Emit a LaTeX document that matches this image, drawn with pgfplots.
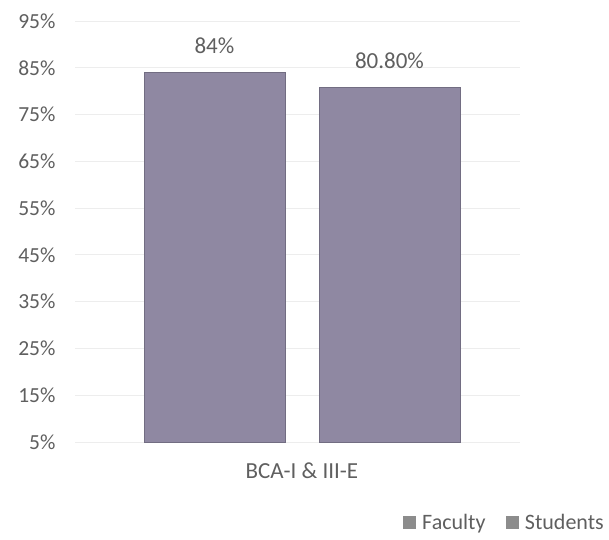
\documentclass[border=0pt]{standalone}
\usepackage{pgfplots}
\pgfplotsset{compat=1.18}
\usepackage{fontspec}
\setmainfont{Carlito}
\definecolor{barc}{HTML}{8F88A2}
\definecolor{txt}{HTML}{5F5F5F}
\definecolor{gridc}{HTML}{EDEDED}
\definecolor{legc}{HTML}{8C8C8C}
\begin{document}
\begin{tikzpicture}
\useasboundingbox (0pt,0pt) rectangle (609pt,539pt);
\begin{axis}[
  at={(75pt,97pt)}, anchor=south west,
  scale only axis, width=445pt, height=421pt,
  ybar, bar width=141pt,
  xmin=-1.02, xmax=0.98,
  ymin=5, ymax=95, ytick={5,15,...,95},
  yticklabel={\pgfmathprintnumber{\tick}\%},
  /pgf/number format/assume math mode=true,
  axis line style={draw=none},
  major tick length=0pt,
  ymajorgrids, grid style={gridc, line width=0.8pt},
  xtick={0}, xticklabels={BCA-I \& III-E},
  tick label style={font=\fontsize{21.5}{24}\selectfont, text=txt},
  yticklabel style={xshift=-16pt},
  xticklabel style={yshift=-17pt, font=\fontsize{23}{26}\selectfont},
  nodes near coords,
  nodes near coords style={font=\fontsize{23}{26}\selectfont, text=txt, yshift=15pt},
  legend style={at={(axis description cs:1.2,-0.192)}, anchor=east, draw=none, fill=none,
    legend columns=2, font=\fontsize{22}{25}\selectfont, text=txt,
    /tikz/every odd column/.append style={column sep=5pt},
    /tikz/every even column/.append style={column sep=18pt}},
  legend image code/.code={\fill[legc] (0pt,-5pt) rectangle (12pt,7pt);},
  clip=false,
]
\addplot[fill=barc, draw=barc!80!black, bar shift=-87.5pt,
  nodes near coords={\pgfmathprintnumber[fixed,precision=0]{\pgfplotspointmeta}\%}] coordinates {(0,84)};
\addplot[fill=barc, draw=barc!80!black, bar shift=87.5pt,
  nodes near coords={80.80\%}] coordinates {(0,80.8)};
\legend{Faculty, Students}
\end{axis}
\end{tikzpicture}
\end{document}
